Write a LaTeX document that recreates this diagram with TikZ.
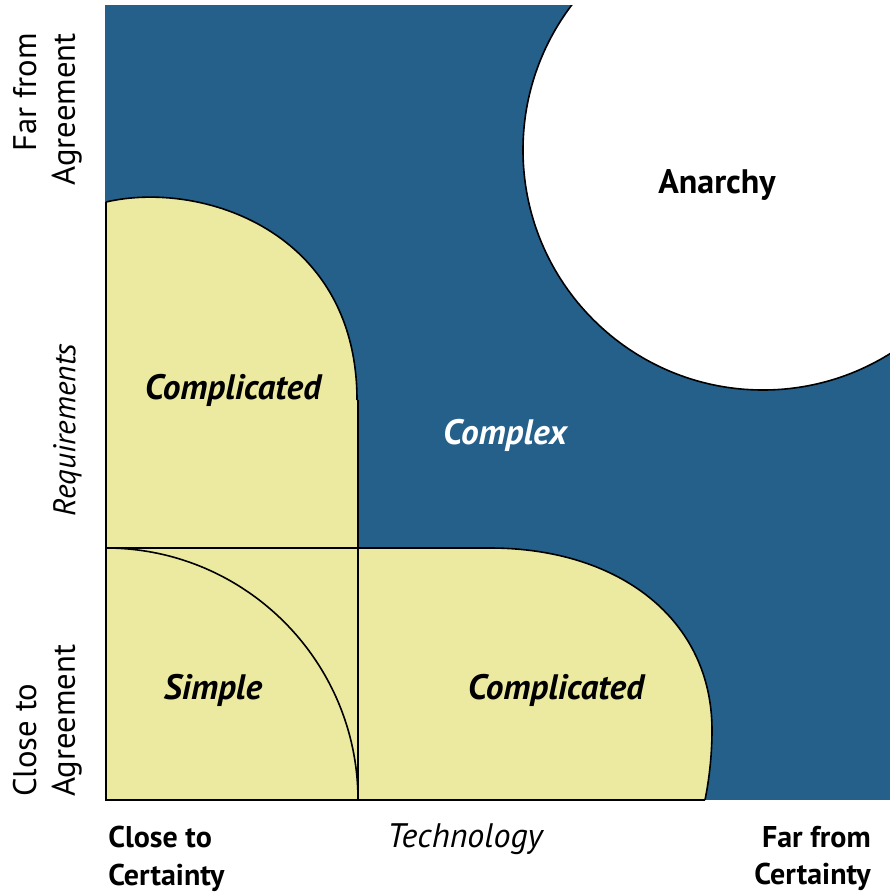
\documentclass[tikz,border=0pt]{standalone}
\usepackage{fontspec}
\setmainfont{PT Sans}
\definecolor{bluebg}{RGB}{37,96,139}
\definecolor{pale}{RGB}{236,234,160}
\begin{document}
\begin{tikzpicture}[x=0.75pt,y=-0.75pt,
  edge/.style={draw=black,line width=1.6pt},
  thin edge/.style={draw=black,line width=1.2pt},
  region label/.style={font=\fontsize{26.5}{30}\selectfont\bfseries\itshape},
  axis label/.style={font=\fontsize{22.5}{28}\selectfont\bfseries, inner sep=0pt},
  side label/.style={font=\fontsize{24.5}{29}\selectfont, inner sep=0pt, rotate=90}]
\useasboundingbox (0,0) rectangle (890,894);
% blue background
\fill[bluebg] (105,5) rectangle (890,800);
% anarchy circle
\begin{scope}
  \clip (105,5) rectangle (890,800);
  \draw[thin edge, fill=white] (763,150) circle[radius=240];
\end{scope}
% upper complicated
\fill[pale] (106,548) -- (106,202) .. controls (200,180) and (357,230) .. (357,400) -- (357,548) -- cycle;
% lower complicated + simple
\fill[pale] (106,548) -- (490,548) .. controls (620,548) and (712,620) .. (712,730)
  .. controls (712,760) and (708,785) .. (705,800) -- (106,800) -- cycle;
% outlines
\draw[thin edge] (106,202) .. controls (200,180) and (357,230) .. (357,400);
\draw[edge] (358,400) -- (358,800);
\draw[edge] (106,202) -- (106,800) -- (705,800);
\draw[edge] (106,548) -- (490,548);
\draw[thin edge] (490,548) .. controls (620,548) and (712,620) .. (712,730)
  .. controls (712,760) and (708,785) .. (705,800);
\draw[thin edge] (106,548) .. controls (245,548) and (358,661) .. (358,800);
% region labels
\node[region label] (compA) at (233,390) {Complicated};
\node[region label, text=white] (cplx) at (505,435) {Complex};
\node[region label] (simp) at (213,690) {Simple};
\node[region label] (compB) at (556,690) {Complicated};
\node[font=\fontsize{25.5}{30}\selectfont\bfseries] (anar) at (717,185) {Anarchy};
% axis labels
\node[axis label, align=left, anchor=north west] (cc) at (108,826) {Close to\\Certainty};
\node[axis label, font=\fontsize{25.5}{28}\selectfont\itshape, anchor=north] (tech) at (465,823) {Technology};
\node[axis label, align=right, anchor=north east] (fc) at (871,826) {Far from\\Certainty};
\node[side label, align=right, anchor=south east] (fa) at (82,33) {Far from\\Agreement};
\node[side label, align=left, anchor=south west] (ca) at (82,797) {Close to\\Agreement};
\node[side label, font=\fontsize{23.5}{28}\selectfont\itshape, anchor=south] (req) at (82,430) {Requirements};
\end{tikzpicture}
\end{document}
